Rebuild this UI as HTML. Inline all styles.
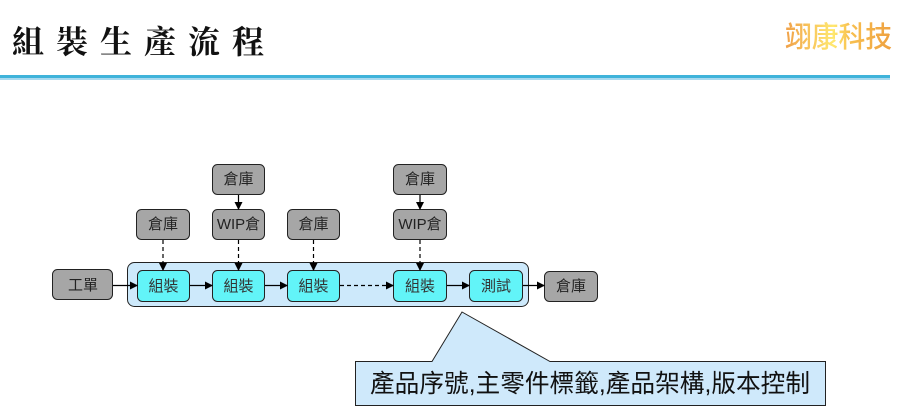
<!DOCTYPE html>
<html>
<head>
<meta charset="utf-8">
<style>
html,body{margin:0;padding:0;background:#fff;}
body{width:903px;height:418px;overflow:hidden;position:relative;}
svg{position:absolute;left:0;top:0;}
</style>
</head>
<body>
<svg width="903" height="418" viewBox="0 0 903 418" xmlns="http://www.w3.org/2000/svg">
<defs>
<linearGradient id="lg" x1="0" y1="0" x2="1" y2="0">
<stop offset="0" stop-color="#f0a048"/>
<stop offset="0.45" stop-color="#ffe870"/>
<stop offset="0.6" stop-color="#f8c050"/>
<stop offset="1" stop-color="#eea040"/>
</linearGradient>
<marker id="ah" markerWidth="8" markerHeight="8" refX="7" refY="4" orient="auto" markerUnits="userSpaceOnUse">
<path d="M0,0 L8,4 L0,8 Z" fill="#000"/>
</marker>
</defs>

<!-- title -->
<text x="12" y="53" font-family="'Noto Serif CJK TC','Noto Serif CJK SC',serif" font-weight="bold" font-size="32" fill="#111" textLength="252" lengthAdjust="spacing">組裝生產流程</text>
<text x="785" y="47" font-family="'Liberation Sans','Noto Sans CJK TC',sans-serif" font-weight="500" font-size="29" fill="url(#lg)" textLength="107" lengthAdjust="spacingAndGlyphs">翊康科技</text>
<rect x="0" y="75" width="890" height="3" fill="#3fb3da"/>
<rect x="0" y="78" width="890" height="2" fill="#a9d9ef"/>

<!-- container -->
<rect x="127.5" y="262.5" width="401" height="44" rx="7" fill="#cde9fb" stroke="#222" stroke-width="1"/>

<g stroke="#222" stroke-width="1">
<rect x="52.5" y="269.5" width="60" height="30" rx="5" fill="#a6a6a6"/>
<rect x="544.5" y="271.5" width="53" height="30" rx="5" fill="#a6a6a6"/>
<rect x="136.5" y="209.5" width="53" height="30" rx="5" fill="#a6a6a6"/>
<rect x="212.5" y="209.5" width="52" height="30" rx="5" fill="#a6a6a6"/>
<rect x="287.5" y="209.5" width="52" height="30" rx="5" fill="#a6a6a6"/>
<rect x="393.5" y="209.5" width="53" height="30" rx="5" fill="#a6a6a6"/>
<rect x="212.5" y="164.5" width="52" height="30" rx="5" fill="#a6a6a6"/>
<rect x="393.5" y="164.5" width="53" height="30" rx="5" fill="#a6a6a6"/>
<rect x="137.5" y="270.5" width="52" height="31" rx="5" fill="#62f4f8"/>
<rect x="212.5" y="270.5" width="52" height="31" rx="5" fill="#62f4f8"/>
<rect x="287.5" y="270.5" width="52" height="31" rx="5" fill="#62f4f8"/>
<rect x="393.5" y="270.5" width="53" height="31" rx="5" fill="#62f4f8"/>
<rect x="469.5" y="270.5" width="53" height="31" rx="5" fill="#62f4f8"/>
</g>

<!-- connectors -->
<g stroke="#000" stroke-width="1.2" fill="none">
<line x1="113" y1="285.5" x2="137" y2="285.5" marker-end="url(#ah)"/>
<line x1="190" y1="285.5" x2="212" y2="285.5" marker-end="url(#ah)"/>
<line x1="265" y1="285.5" x2="287" y2="285.5" marker-end="url(#ah)"/>
<line x1="340" y1="285.5" x2="393" y2="285.5" stroke-dasharray="4,3" marker-end="url(#ah)"/>
<line x1="447" y1="285.5" x2="469" y2="285.5" marker-end="url(#ah)"/>
<line x1="523" y1="285.5" x2="544" y2="285.5" marker-end="url(#ah)"/>
<line x1="163" y1="240" x2="163" y2="270" stroke-dasharray="4,3" marker-end="url(#ah)"/>
<line x1="238.5" y1="240" x2="238.5" y2="270" stroke-dasharray="4,3" marker-end="url(#ah)"/>
<line x1="313.5" y1="240" x2="313.5" y2="270" stroke-dasharray="4,3" marker-end="url(#ah)"/>
<line x1="420" y1="240" x2="420" y2="270" stroke-dasharray="4,3" marker-end="url(#ah)"/>
<line x1="238.5" y1="195" x2="238.5" y2="209" marker-end="url(#ah)"/>
<line x1="420" y1="195" x2="420" y2="209" marker-end="url(#ah)"/>
</g>

<!-- labels -->
<g font-family="'Liberation Sans','Noto Sans CJK TC',sans-serif" font-size="15" fill="#222" text-anchor="middle">
<text x="83" y="290">工單</text>
<text x="571" y="291">倉庫</text>
<text x="163" y="229">倉庫</text>
<text x="238.5" y="229">WIP倉</text>
<text x="313.5" y="229">倉庫</text>
<text x="420" y="229">WIP倉</text>
<text x="238.5" y="184">倉庫</text>
<text x="420" y="184">倉庫</text>
<text x="163.5" y="291" fill="#333">組裝</text>
<text x="238.5" y="291" fill="#333">組裝</text>
<text x="313.5" y="291" fill="#333">組裝</text>
<text x="420" y="291" fill="#333">組裝</text>
<text x="496" y="291" fill="#333">測試</text>
</g>

<!-- callout -->
<path d="M355.5,361.5 L432,361.5 L462,312 L550,361.5 L825.5,361.5 L825.5,405.5 L355.5,405.5 Z" fill="#cfe9fb" stroke="#222" stroke-width="1"/>
<text x="370" y="392" font-family="'Liberation Sans','Noto Sans CJK TC',sans-serif" font-size="25" fill="#111" textLength="440" lengthAdjust="spacingAndGlyphs">產品序號,主零件標籤,產品架構,版本控制</text>
</svg>
</body>
</html>
